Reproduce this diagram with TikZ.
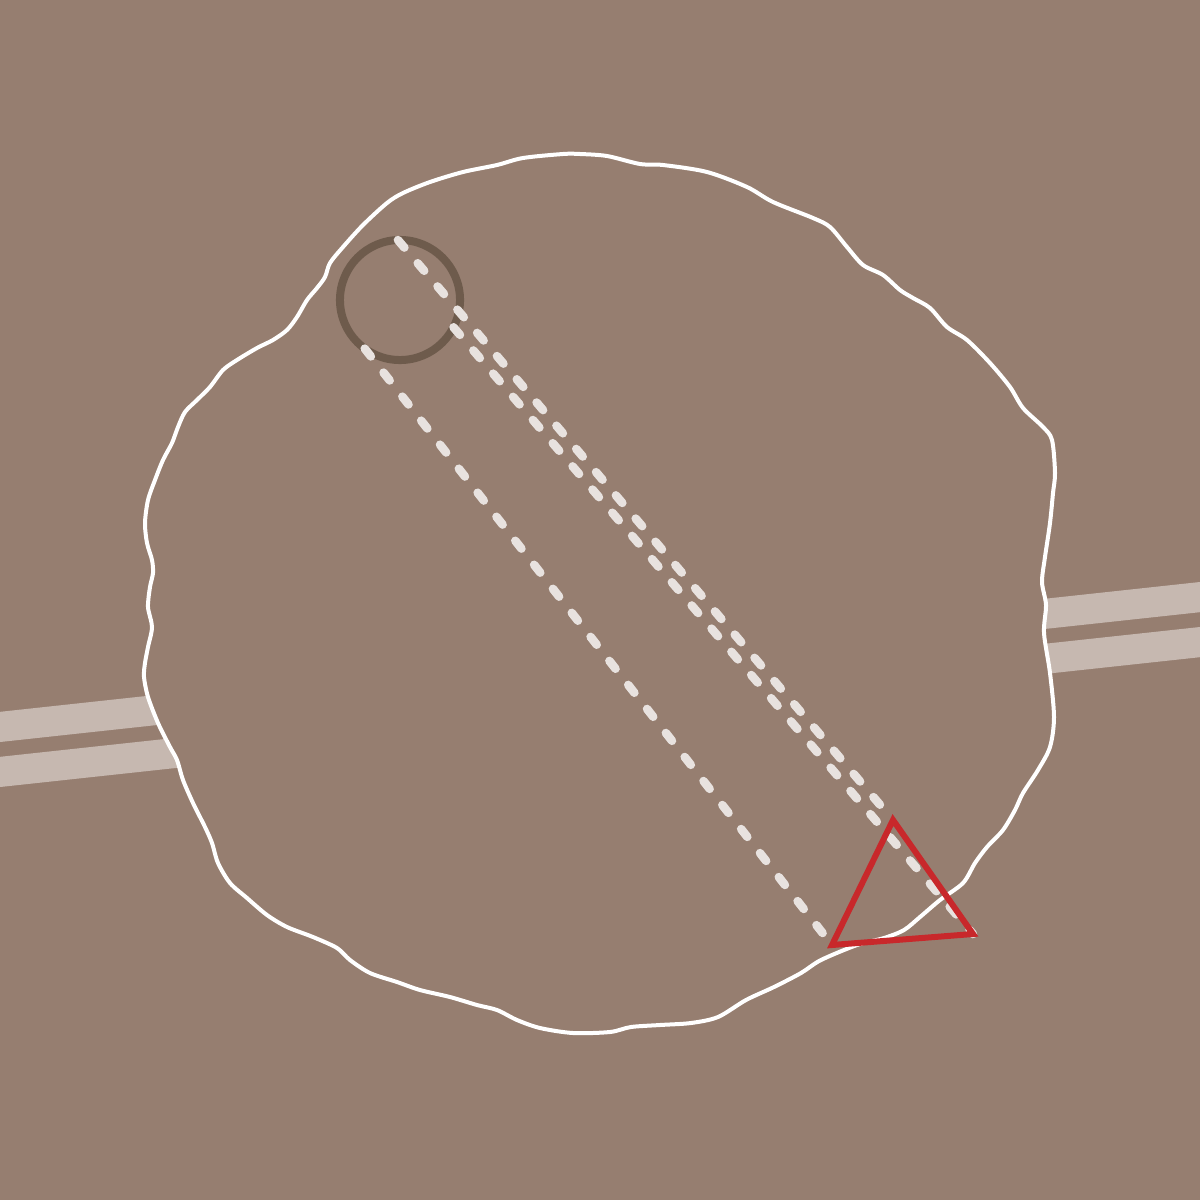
\documentclass[tikz,border=0pt]{standalone}
\usepackage{xcolor}
\usepackage{tikz}
\usetikzlibrary{calc, positioning}
\definecolor{fond}{HTML}{967E70}
\definecolor{bande}{HTML}{C6B8B0}
\definecolor{brun}{HTML}{6E5B4C}
\definecolor{rouge}{HTML}{C8282B}
\definecolor{trait}{HTML}{E8E2DF}

\begin{document}
\begin{tikzpicture}[x=0.01cm, y=-0.01cm]
		\tikzstyle{bandeau}=[color=bande, line width=0.3cm]
		\tikzstyle{contour}=[draw=white, fill=fond, line width=0.04cm]
		\tikzstyle{pointille}=[color=trait, line width=0.085cm, line cap=round, dash pattern=on 0.1cm off 0.205cm]
		\tikzstyle{anneau}=[circle, draw=brun, line width=0.08cm, minimum size=1.2cm, inner sep=0pt, outer sep=0pt]
		\tikzstyle{signal}=[draw=rouge, line width=0.06cm, line join=miter]
		\fill[color=fond] (0,0) rectangle (1200,1200);
		\useasboundingbox (0,0) rectangle (1200,1200);

		% bandes
		\coordinate (b1g) at (-10,728);
		\coordinate (b1d) at (1210,596);
		\coordinate (b2g) at (-10,773);
		\coordinate (b2d) at (1210,641);
		\draw[bandeau] (b1g) -- (b1d);
		\draw[bandeau] (b2g) -- (b2d);

		% zone
		\draw[contour] plot[smooth cycle] coordinates {
			(580,154) (607,156) (640,164) (663,165) (707,172) (747,187) (773,202) (813,218)
			(830,227) (847,247) (863,265) (883,275) (900,290) (913,298) (930,308) (947,327)
			(967,340) (990,363) (1010,387) (1023,408) (1043,427) (1052,440) (1055,473) (1053,493)
			(1050,523) (1045,557) (1042,582) (1046,605) (1044,633) (1050,673) (1054,717) (1050,747)
			(1038,770) (1023,793) (1015,810) (1003,830) (987,847) (975,863) (963,883) (940,900)
			(920,917) (904,930) (884,938) (857,945) (821,960) (801,973) (774,987) (746,1000)
			(718,1017) (691,1023) (660,1025) (631,1027) (610,1032) (573,1033) (540,1028) (517,1020)
			(497,1010) (477,1005) (450,997) (420,990) (397,982) (370,973) (350,960) (337,948)
			(313,937) (287,927) (267,915) (247,898) (230,883) (218,863) (212,843) (205,827)
			(193,803) (183,780) (177,760) (170,747) (158,723) (148,697) (144,677) (145,663)
			(148,647) (152,627) (148,607) (150,587) (153,573) (152,560) (147,543) (145,523)
			(148,500) (155,480) (163,460) (172,443) (178,427) (185,412) (197,400) (210,387)
			(223,370) (237,360) (257,348) (273,340) (287,330) (297,317) (307,300) (317,288)
			(325,277) (330,263) (343,247) (363,225) (387,203) (403,193) (430,182) (463,172)
			(497,165) (523,158) (563,154)};

		\node[anneau] (oeil) at (400,300) {};
		\coordinate (haut) at (893,820);
		\coordinate (droite) at (973,934);
		\coordinate (gauche) at (832,945);

		\draw[pointille] (oeil.92) -- (haut);
		\draw[pointille] (oeil.-27) -- (droite);
		\draw[pointille] (oeil.234) -- (gauche);
		\draw[signal] (haut) -- (droite) -- (gauche) -- cycle;
	\end{tikzpicture}
\end{document}
